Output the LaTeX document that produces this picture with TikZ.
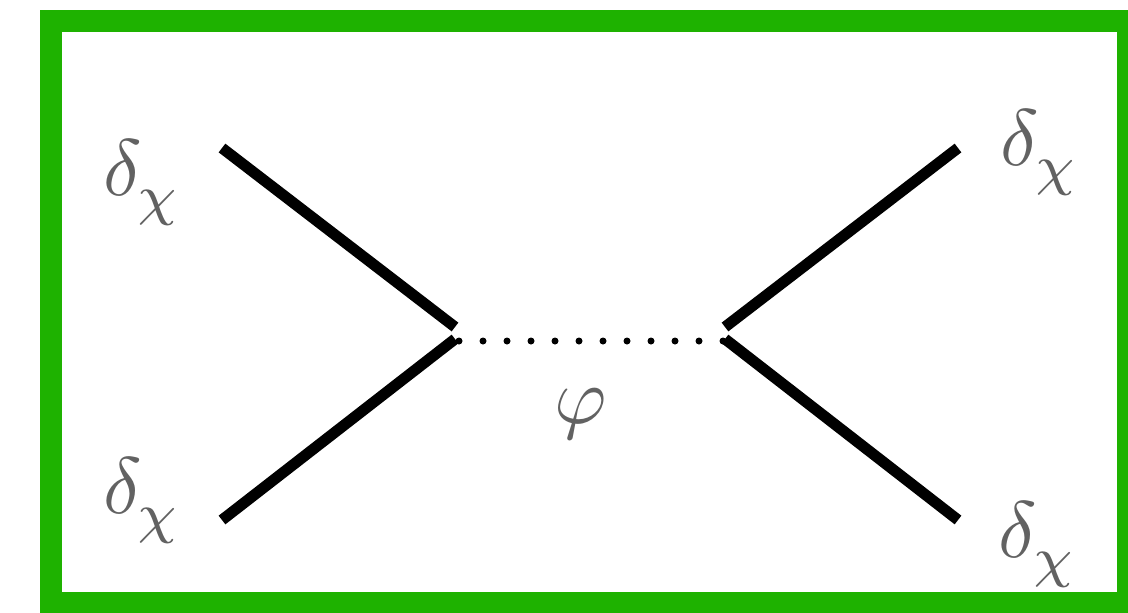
\documentclass[tikz,border=0pt]{standalone}
\definecolor{framegreen}{RGB}{30,178,0}
\definecolor{labelgray}{RGB}{98,98,98}
\newcommand{\dchi}{\scalebox{4}{$\delta\kern-0.5pt\raisebox{-2.4pt}{$\scriptstyle\chi$}$}}
\tikzset{
  leg/.style={line width=5.5pt,line cap=butt},
  prop/.style={line width=3.5pt,line cap=round,dash pattern=on 0pt off 12pt},
  lbl/.style={inner sep=0pt,anchor=base west,text=labelgray}
}
\begin{document}
\begin{tikzpicture}[x=0.5pt,y=-0.5pt]
                        \useasboundingbox(0,0)rectangle(1128,612);
                        \clip(0,0)rectangle(1128,612);
                        \fill[white](0,0)rectangle(1128,612);
                        \draw[framegreen,line width=11pt](51,21)rectangle(1128,603);
                        \coordinate(A)at(222,148);
                        \coordinate(B)at(222,520);
                        \coordinate(C)at(958,148);
                        \coordinate(D)at(958,520);
                        \coordinate(L1)at(455,327);
                        \coordinate(L2)at(455,339);
                        \coordinate(R1)at(725,327);
                        \coordinate(R2)at(725,339);
                        \coordinate(P)at(459,341);
                        \coordinate(Q)at(723,341);
                        \draw[leg](A)--(L1);
                        \draw[leg](L2)--(B);
                        \draw[leg](C)--(R1);
                        \draw[leg](R2)--(D);
                        \draw[prop](P)--(Q);
                        \node[lbl](a)at(103,195){\dchi};
                        \node[lbl](b)at(103,513){\dchi};
                        \node[lbl](c)at(1000,165){\dchi};
                        \node[lbl](d)at(998,557){\dchi};
                        \node[lbl](phi)at(554,423){\scalebox{4}{$\varphi$}};
                    \end{tikzpicture}
\end{document}
